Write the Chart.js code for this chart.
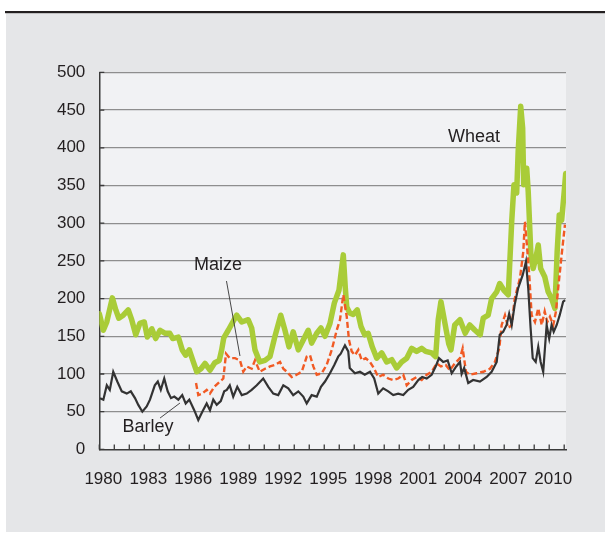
<!DOCTYPE html>
<html><head><meta charset="utf-8">
<script src="https://cdn.jsdelivr.net/npm/chart.js@4"></script>
<style>html,body{margin:0;padding:0;background:#fff;}canvas{display:block}</style>
</head><body>
<canvas id="c" width="605" height="533"></canvas>
<script>
// ---- data ----
const wheatYears = [1980.0,1980.27,1980.5,1980.87,1981.1,1981.3,1981.6,1981.93,1982.16,1982.43,1982.7,1983.0,1983.2,1983.5,1983.76,1984.05,1984.4,1984.7,1984.9,1985.27,1985.53,1985.76,1986.0,1986.27,1986.5,1986.78,1987.05,1987.38,1987.7,1988.0,1988.16,1988.3,1988.6,1989.16,1989.5,1989.93,1990.16,1990.38,1990.7,1991.05,1991.38,1991.7,1992.1,1992.38,1992.65,1992.93,1993.27,1993.6,1993.93,1994.16,1994.5,1994.78,1995.05,1995.38,1995.67,1995.98,1996.16,1996.27,1996.4,1996.5,1996.7,1996.93,1997.2,1997.45,1997.7,1997.93,1998.2,1998.5,1998.83,1999.16,1999.5,1999.83,2000.16,2000.5,2000.83,2001.16,2001.5,2001.76,2002.16,2002.43,2002.6,2002.78,2003.05,2003.3,2003.45,2003.7,2004.05,2004.4,2004.7,2005.05,2005.4,2005.6,2005.93,2006.16,2006.5,2006.7,2006.98,2007.27,2007.5,2007.65,2007.83,2007.93,2008.1,2008.23,2008.3,2008.5,2008.6,2008.78,2008.93,2009.1,2009.27,2009.43,2009.7,2009.93,2010.16,2010.38,2010.53,2010.67,2010.83,2010.98,2011.1];
const wheatValues = [180,158,169,201,185,174,178,185,172,152,167,169,149,160,147,158,154,154,147,149,132,125,132,116,103,107,114,105,115,118,132,148,158,178,169,172,161,132,116,118,123,149,178,158,136,156,132,145,158,141,154,161,150,167,194,211,240,258,215,189,181,179,185,163,152,154,136,121,128,116,119,108,116,121,134,130,134,130,128,123,172,196,167,140,132,165,172,154,165,158,152,174,178,200,209,220,211,205,302,351,340,395,455,426,351,373,342,258,240,253,271,240,229,209,200,187,262,311,304,337,366];

const barleyYears = [1980.05,1980.27,1980.5,1980.7,1980.93,1981.2,1981.5,1981.83,1982.1,1982.38,1982.6,1982.87,1983.16,1983.38,1983.7,1983.9,1984.1,1984.33,1984.56,1984.78,1985.0,1985.27,1985.53,1985.76,1986.0,1986.33,1986.6,1986.87,1987.16,1987.38,1987.6,1987.83,1988.1,1988.33,1988.5,1988.7,1988.93,1989.2,1989.5,1989.83,1990.16,1990.5,1990.93,1991.27,1991.6,1991.93,1992.27,1992.6,1992.93,1993.27,1993.6,1993.83,1994.16,1994.5,1994.78,1995.05,1995.38,1995.67,1995.93,1996.1,1996.38,1996.6,1996.7,1997.05,1997.38,1997.7,1998.05,1998.33,1998.6,1998.93,1999.27,1999.6,1999.93,2000.27,2000.6,2000.93,2001.27,2001.53,2001.83,2002.16,2002.43,2002.65,2002.93,2003.23,2003.5,2003.8,2004.05,2004.16,2004.33,2004.6,2004.93,2005.38,2005.83,2006.16,2006.5,2006.7,2006.93,2007.16,2007.33,2007.5,2007.7,2007.93,2008.23,2008.45,2008.6,2008.76,2008.9,2009.1,2009.27,2009.43,2009.6,2009.83,2010.0,2010.16,2010.3,2010.5,2010.7,2010.93,2011.06];
const barleyValues = [68,66,85,79,103,90,77,74,77,68,59,50,57,66,85,90,79,94,77,68,70,66,72,61,66,52,39,50,61,52,66,59,64,77,79,85,70,83,72,74,79,85,94,83,74,72,85,81,72,77,70,61,72,70,83,90,101,112,123,127,138,130,108,101,103,99,103,94,74,81,77,72,74,72,79,83,92,96,94,99,110,121,116,118,101,110,116,100,108,88,92,90,96,103,116,152,156,165,180,165,192,214,231,249,214,161,121,116,136,116,103,165,147,165,156,165,178,196,198];

const maizeYears = [1986.45,1986.6,1986.87,1987.16,1987.38,1987.67,1987.93,1988.27,1988.45,1988.7,1989.05,1989.38,1989.6,1989.83,1990.16,1990.38,1990.7,1991.05,1991.38,1991.7,1992.05,1992.27,1992.5,1992.83,1993.16,1993.5,1993.83,1994.05,1994.27,1994.5,1994.83,1995.16,1995.5,1995.83,1996.05,1996.27,1996.5,1996.65,1996.83,1997.05,1997.27,1997.5,1997.76,1998.05,1998.33,1998.6,1998.93,1999.27,1999.6,1999.93,2000.27,2000.5,2000.83,2001.16,2001.5,2001.83,2002.16,2002.5,2002.78,2003.1,2003.38,2003.7,2004.05,2004.23,2004.45,2004.7,2005.16,2005.6,2006.05,2006.38,2006.67,2006.83,2007.05,2007.27,2007.5,2007.7,2008.05,2008.27,2008.38,2008.53,2008.67,2008.83,2009.05,2009.27,2009.5,2009.7,2009.87,2010.05,2010.27,2010.45,2010.6,2010.83,2011.05];
const maizeValues = [88,72,74,79,74,83,88,94,127,121,121,118,103,110,107,118,103,107,110,112,116,107,103,96,99,103,123,125,110,99,101,112,132,158,172,205,176,145,130,125,132,118,121,116,107,96,99,94,92,94,99,85,92,96,92,99,103,114,110,112,105,114,121,134,103,99,101,103,107,116,134,165,178,161,165,200,227,262,302,267,231,178,169,187,165,183,169,176,165,183,214,258,298];

const seriesNames = ['Barley','Maize','Wheat'];
const yTickValues = [0,50,100,150,200,250,300,350,400,450,500];
const xTickYears = [1980,1981,1982,1983,1984,1985,1986,1987,1988,1989,1990,1991,1992,1993,1994,1995,1996,1997,1998,1999,2000,2001,2002,2003,2004,2005,2006,2007,2008,2009,2010,2011];
const xLabelYears = [1980,1983,1986,1989,1992,1995,1998,2001,2004,2007,2010];

// ---- annotation placement (in data units) ----
const notes = [
  {text:'Wheat', x:2004.98, y:414},
  {text:'Maize', x:1987.91, y:244.6},
  {text:'Barley', x:1983.25, y:29.7}
];
const leaders = [
  {x1:1988.48, y1:223.3, x2:1989.38, y2:123.9},
  {x1:1984.05, y1:41.6, x2:1985.38, y2:61.5}
];

const pts = (xs, ys) => xs.map((x,i)=>({x:x, y:ys[i]}));
const FONT = '"Liberation Sans", Arial, sans-serif';
const INK = '#231f20';

const bgPlugin = {
  id:'bg',
  beforeDraw(chart){
    const c = chart.ctx, a = chart.chartArea;
    c.save();
    c.fillStyle = '#ffffff'; c.fillRect(0,0,605,533);
    c.fillStyle = '#e5e6e8'; c.fillRect(6,13,599,519);
    c.fillStyle = '#231f20'; c.fillRect(5,11,600,2.2);
    c.fillStyle = '#f1f2f4'; c.fillRect(a.left, a.top, a.right-a.left, a.bottom-a.top);
    c.restore();
  }
};

const tickPlugin = {
  id:'inTicks',
  afterDatasetsDraw(chart){
    const c = chart.ctx, a = chart.chartArea, xs = chart.scales.x, ys = chart.scales.y;
    c.save();
    c.strokeStyle = '#3a3a3a'; c.lineWidth = 1.3;
    c.beginPath();
    xTickYears.forEach(v=>{ const px = xs.getPixelForValue(v); c.moveTo(px, a.bottom); c.lineTo(px, a.bottom-5); });
    yTickValues.forEach(v=>{ const py = ys.getPixelForValue(v); c.moveTo(a.left, py); c.lineTo(a.left+5, py); });
    c.stroke();
    // annotations
    c.strokeStyle = '#333'; c.lineWidth = 0.9;
    c.beginPath();
    leaders.forEach(l=>{
      c.moveTo(xs.getPixelForValue(l.x1), ys.getPixelForValue(l.y1));
      c.lineTo(xs.getPixelForValue(l.x2), ys.getPixelForValue(l.y2));
    });
    c.stroke();
    c.fillStyle = INK; c.font = '18px ' + FONT; c.textAlign='center'; c.textBaseline='middle';
    notes.forEach(n=> c.fillText(n.text, xs.getPixelForValue(n.x), ys.getPixelForValue(n.y)));
    c.restore();
  }
};

new Chart(document.getElementById('c'), {
  type:'line',
  data:{
    datasets:[
      {label:seriesNames[0], data:pts(barleyYears, barleyValues), borderColor:'#333333', borderWidth:2.2, pointRadius:0, tension:0, fill:false},
      {label:seriesNames[1], data:pts(maizeYears, maizeValues), borderColor:'#f15a24', borderWidth:2.4, borderDash:[6,3], pointRadius:0, tension:0, fill:false},
      {label:seriesNames[2], data:pts(wheatYears, wheatValues), borderColor:'#a9cc38', borderWidth:5.5, pointRadius:0, tension:0, fill:false, borderJoinStyle:'round', borderCapStyle:'round'}
    ]
  },
  options:{
    responsive:false, animation:false, devicePixelRatio:1,
    layout:{padding:{top:72.4, right:39, left:0, bottom:0}},
    plugins:{legend:{display:false}, tooltip:{enabled:false}},
    scales:{
      x:{
        type:'linear', min:1980, max:2011.12,
        afterFit(s){ s.height = 533-449.4; },
        afterBuildTicks(s){ s.ticks = xTickYears.map(v=>({value:v})); },
        ticks:{autoSkip:false, maxRotation:0, minRotation:0, padding:20, labelOffset:4, color:INK, font:{family:FONT, size:17},
          callback:(v)=> xLabelYears.includes(Math.round(v)) && Math.abs(v-Math.round(v))<1e-6 ? String(Math.round(v)) : ''},
        grid:{display:true, drawOnChartArea:false, drawTicks:false},
        border:{display:true, color:'#3a3a3a', width:1.5}
      },
      y:{
        min:0, max:500,
        afterFit(s){ s.width = 99.3; },
        afterBuildTicks(s){ s.ticks = yTickValues.map(v=>({value:v})); },
        ticks:{padding:14, color:INK, font:{family:FONT, size:17}},
        grid:{drawTicks:false, lineWidth:1.3, color:(ctx)=> (ctx.tick && ctx.tick.value===0) ? 'rgba(0,0,0,0)' : '#8e8e8e'},
        border:{display:true, color:'#3a3a3a', width:1.5}
      }
    }
  },
  plugins:[bgPlugin, tickPlugin]
});
</script>
</body></html>
